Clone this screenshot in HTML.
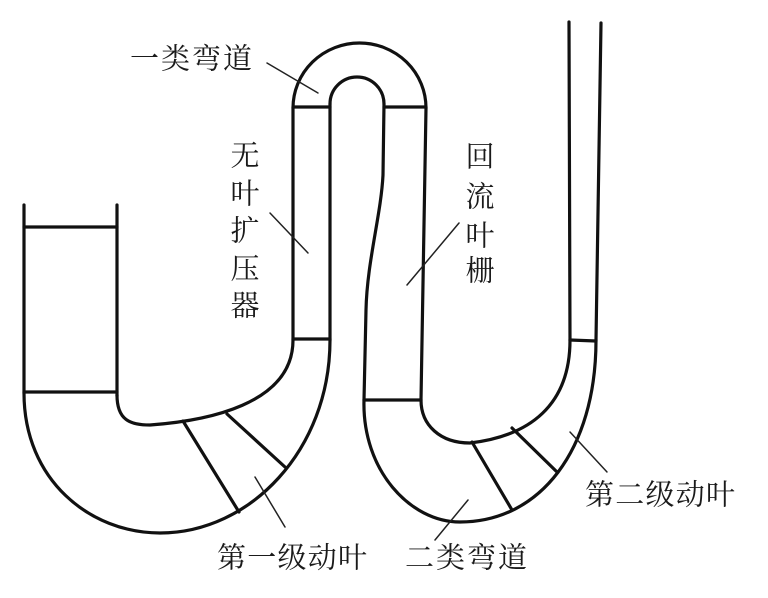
<!DOCTYPE html>
<html lang="zh-CN">
<head>
<meta charset="utf-8">
<style>
  html, body { margin:0; padding:0; background:#fff; }
  svg { display:block; }
  text { font-family: "Noto Serif CJK SC", "Noto Serif CJK SC", "Liberation Serif", serif; fill:#1a1a1a; }
</style>
</head>
<body>
<svg width="768" height="598" viewBox="0 0 768 598" xmlns="http://www.w3.org/2000/svg" lang="zh-CN">
  <g fill="none" stroke="#111" stroke-width="3.2" stroke-linecap="round" stroke-linejoin="round">
    <!-- Inlet left stage 1 -->
    <line x1="24" y1="205" x2="24" y2="393"/>
    <line x1="117" y1="205" x2="117" y2="396"/>
    <line x1="24" y1="227" x2="117" y2="227"/>
    <line x1="24" y1="392" x2="117" y2="392"/>
    <!-- Stage 1 outer (shroud) curve -->
    <path d="M24,393 C24,480 90,533 160,533 C250,533 330,450 330,340"/>
    <!-- Stage 1 hub curve -->
    <path d="M117,395 C117,420 130,425 150,425 C205,421 293,405 293,340"/>
    <!-- Stage 1 blades -->
    <line x1="183" y1="421" x2="239" y2="512"/>
    <line x1="227" y1="414" x2="285" y2="467"/>
    <!-- Diffuser 1 -->
    <line x1="293" y1="108" x2="293" y2="340"/>
    <line x1="330" y1="104" x2="330" y2="340"/>
    <line x1="293" y1="339" x2="330" y2="339"/>
    <line x1="293" y1="107" x2="330" y2="107"/>
    <!-- U-bend -->
    <path d="M293,108 A66.5,65 0 0 1 426,108"/>
    <path d="M330,104 A27,27 0 0 1 384,104"/>
    <line x1="384" y1="107" x2="426" y2="107"/>
    <!-- Return channel -->
    <path d="M384,104 L383,175 C381,215 367,262 366,310 L364,400"/>
    <line x1="426" y1="108" x2="421" y2="400"/>
    <line x1="364" y1="400" x2="421" y2="400"/>
    <!-- Stage 2 outer curve -->
    <path d="M364,400 C362,470 410,522 460,522 C540,522 596,450 596,340"/>
    <!-- Stage 2 hub curve -->
    <path d="M421,400 C421,425 440,443 470,443 C530,436 570,405 570,340"/>
    <!-- Stage 2 blades -->
    <line x1="472" y1="442" x2="512" y2="510"/>
    <line x1="512" y1="428" x2="557" y2="472"/>
    <!-- Diffuser 2 -->
    <line x1="569" y1="22" x2="570" y2="340"/>
    <line x1="601" y1="23" x2="596" y2="340"/>
    <line x1="570" y1="340" x2="596" y2="341"/>
  </g>
  <!-- Leader lines -->
  <g stroke="#222" stroke-width="1.5" stroke-linecap="round">
    <line x1="267" y1="63" x2="318" y2="93"/>
    <line x1="270" y1="213" x2="308" y2="253"/>
    <line x1="459" y1="223" x2="407" y2="285"/>
    <line x1="255" y1="477" x2="285" y2="527"/>
    <line x1="468" y1="500" x2="435" y2="540"/>
    <line x1="570" y1="432" x2="607" y2="472"/>
  </g>
  <!-- Labels -->
  <g font-size="29">
    <text x="130" y="57" dominant-baseline="central" textLength="122" lengthAdjust="spacing">一类弯道</text>
    <text x="245" y="154" text-anchor="middle" dominant-baseline="central">无</text>
    <text x="245" y="192" text-anchor="middle" dominant-baseline="central">叶</text>
    <text x="245" y="229" text-anchor="middle" dominant-baseline="central">扩</text>
    <text x="245" y="267" text-anchor="middle" dominant-baseline="central">压</text>
    <text x="245" y="304" text-anchor="middle" dominant-baseline="central">器</text>
    <text x="480" y="155" text-anchor="middle" dominant-baseline="central">回</text>
    <text x="480" y="195" text-anchor="middle" dominant-baseline="central">流</text>
    <text x="480" y="234" text-anchor="middle" dominant-baseline="central">叶</text>
    <text x="480" y="269" text-anchor="middle" dominant-baseline="central">栅</text>
    <text x="217" y="556" dominant-baseline="central" textLength="150" lengthAdjust="spacing">第一级动叶</text>
    <text x="405" y="556" dominant-baseline="central" textLength="122" lengthAdjust="spacing">二类弯道</text>
    <text x="585" y="493" dominant-baseline="central" textLength="150" lengthAdjust="spacing">第二级动叶</text>
  </g>
</svg>
</body>
</html>
